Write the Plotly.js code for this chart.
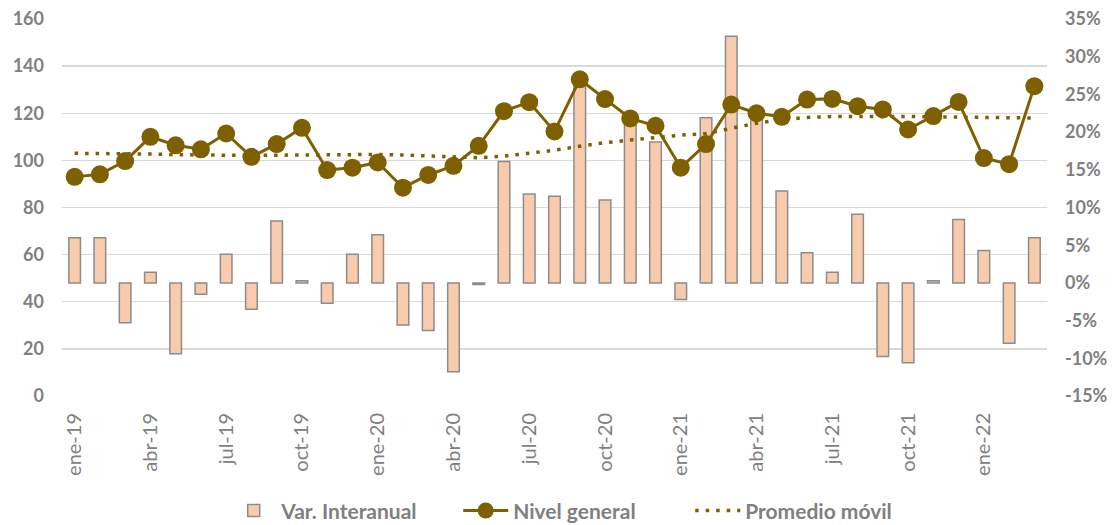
<!DOCTYPE html>
<html>
<head>
<meta charset="utf-8">
<script src="https://cdn.plot.ly/plotly-3.0.1.min.js"></script>
<style>
  html, body { margin: 0; padding: 0; background: #ffffff; }
  #chart { width: 1118px; height: 525px; }
</style>
</head>
<body>
<div id="chart"></div>
<script>
const meses = [
  "ene-19","feb-19","mar-19","abr-19","may-19","jun-19","jul-19","ago-19","sep-19","oct-19","nov-19","dic-19",
  "ene-20","feb-20","mar-20","abr-20","may-20","jun-20","jul-20","ago-20","sep-20","oct-20","nov-20","dic-20",
  "ene-21","feb-21","mar-21","abr-21","may-21","jun-21","jul-21","ago-21","sep-21","oct-21","nov-21","dic-21",
  "ene-22","feb-22","mar-22"
];
const etiquetasX = ["ene-19","abr-19","jul-19","oct-19","ene-20","abr-20","jul-20","oct-20","ene-21","abr-21","jul-21","oct-21","ene-22"];

// Var. Interanual (%), right axis
const varInteranual = [
  6.0, 6.0, -5.3, 1.4, -9.4, -1.5, 3.8, -3.5, 8.2, 0.3, -2.7, 3.8,
  6.4, -5.6, -6.3, -11.8, -0.2, 16.1, 11.8, 11.5, 26.5, 11.0, 22.0, 18.7,
  -2.2, 21.9, 32.7, 22.1, 12.2, 4.0, 1.4, 9.1, -9.75, -10.6, 0.3, 8.4,
  4.3, -8.0, 6.0
];
// Nivel general (índice), left axis
const nivelGeneral = [
  93.0, 94.1, 99.7, 110.0, 106.4, 104.7, 111.4, 101.5, 106.9, 113.8, 95.9, 96.9,
  99.1, 88.4, 93.8, 97.7, 106.2, 120.9, 124.7, 112.3, 134.4, 126.0, 117.8, 114.7,
  96.9, 106.9, 123.7, 120.0, 118.5, 125.8, 126.1, 123.0, 121.6, 113.1, 118.8, 124.8,
  101.0, 98.4, 131.5
];
// Promedio móvil, left axis
const promedioMovil = [
  103.0, 103.0, 102.9, 102.7, 102.4, 102.2, 102.1, 102.1, 102.2, 102.3, 102.4, 102.5,
  102.5, 102.3, 102.0, 101.5, 101.1, 101.8, 103.0, 104.3, 106.0, 107.5, 108.6, 109.8,
  110.7, 111.4, 113.5, 115.8, 117.3, 118.2, 118.6, 118.7, 118.7, 118.6, 118.5, 118.4,
  118.3, 118.1, 118.0
];
const pctTicks = [-15, -10, -5, 0, 5, 10, 15, 20, 25, 30, 35];
const pctLabels = ["-15%", "-10%", "-5%", "0%", "5%", "10%", "15%", "20%", "25%", "30%", "35%"];
const nivelTicks = [0, 20, 40, 60, 80, 100, 120, 140, 160];

const gold = "#7F6000";
const gray = "#808080";
const fontFam = "Lato, 'Liberation Sans', sans-serif";

const traces = [
  {
    type: "bar", name: "Var. Interanual",
    x: meses, y: varInteranual, yaxis: "y", xaxis: "x",
    marker: { color: "#F8CBAD", line: { color: "#8c8c8c", width: 1.5 } }
  },
  {
    type: "scatter", mode: "lines+markers", name: "Nivel general",
    x: meses, y: nivelGeneral, yaxis: "y2", xaxis: "x",
    line: { color: gold, width: 3 },
    marker: { color: gold, size: 18 }
  },
  {
    type: "scatter", mode: "lines", name: "Promedio móvil",
    x: meses, y: promedioMovil, yaxis: "y2", xaxis: "x",
    line: { color: gold, width: 3.5, dash: "3.5px,7px" }
  }
];

const layout = {
  width: 1118, height: 525,
  margin: { l: 62, r: 71, t: 19, b: 129 },
  paper_bgcolor: "#ffffff", plot_bgcolor: "#ffffff",
  font: { family: fontFam, color: gray, size: 17 },
  showlegend: true,
  bargap: 0.54,
  xaxis: {
    type: "category", range: [-0.5, 38.5],
    tickmode: "array", tickvals: etiquetasX, ticktext: etiquetasX,
    tickangle: -90, showgrid: false, zeroline: false, showline: false,
    ticks: "", ticklabelstandoff: 12,
    tickfont: { size: 20, color: gray, family: fontFam }
  },
  yaxis: {
    side: "right", range: [-15, 35],
    tickmode: "array", tickvals: pctTicks, ticktext: pctLabels,
    showgrid: false, zeroline: false, showline: false, ticks: "",
    ticklabelstandoff: 17,
    tickfont: { size: 18, color: gray, family: fontFam, weight: "bold" }
  },
  yaxis2: {
    overlaying: "y", side: "left", range: [0, 160],
    tickmode: "array", tickvals: nivelTicks,
    showgrid: true, gridcolor: "#d9d9d9", gridwidth: 1.3,
    zeroline: false, showline: false, ticks: "",
    ticklabelstandoff: 17,
    tickfont: { size: 18, color: gray, family: fontFam, weight: "bold" }
  },
  legend: {
    orientation: "h", xref: "paper", x: 0.52, xanchor: "center",
    yref: "container", y: 0.027, yanchor: "middle",
    font: { size: 21, color: gray, family: fontFam, weight: "bold" },
    itemwidth: 45, entrywidth: 172, entrywidthmode: "pixels",
    bgcolor: "rgba(0,0,0,0)"
  }
};

Plotly.newPlot("chart", traces, layout, { displayModeBar: false, staticPlot: true });
</script>
</body>
</html>
